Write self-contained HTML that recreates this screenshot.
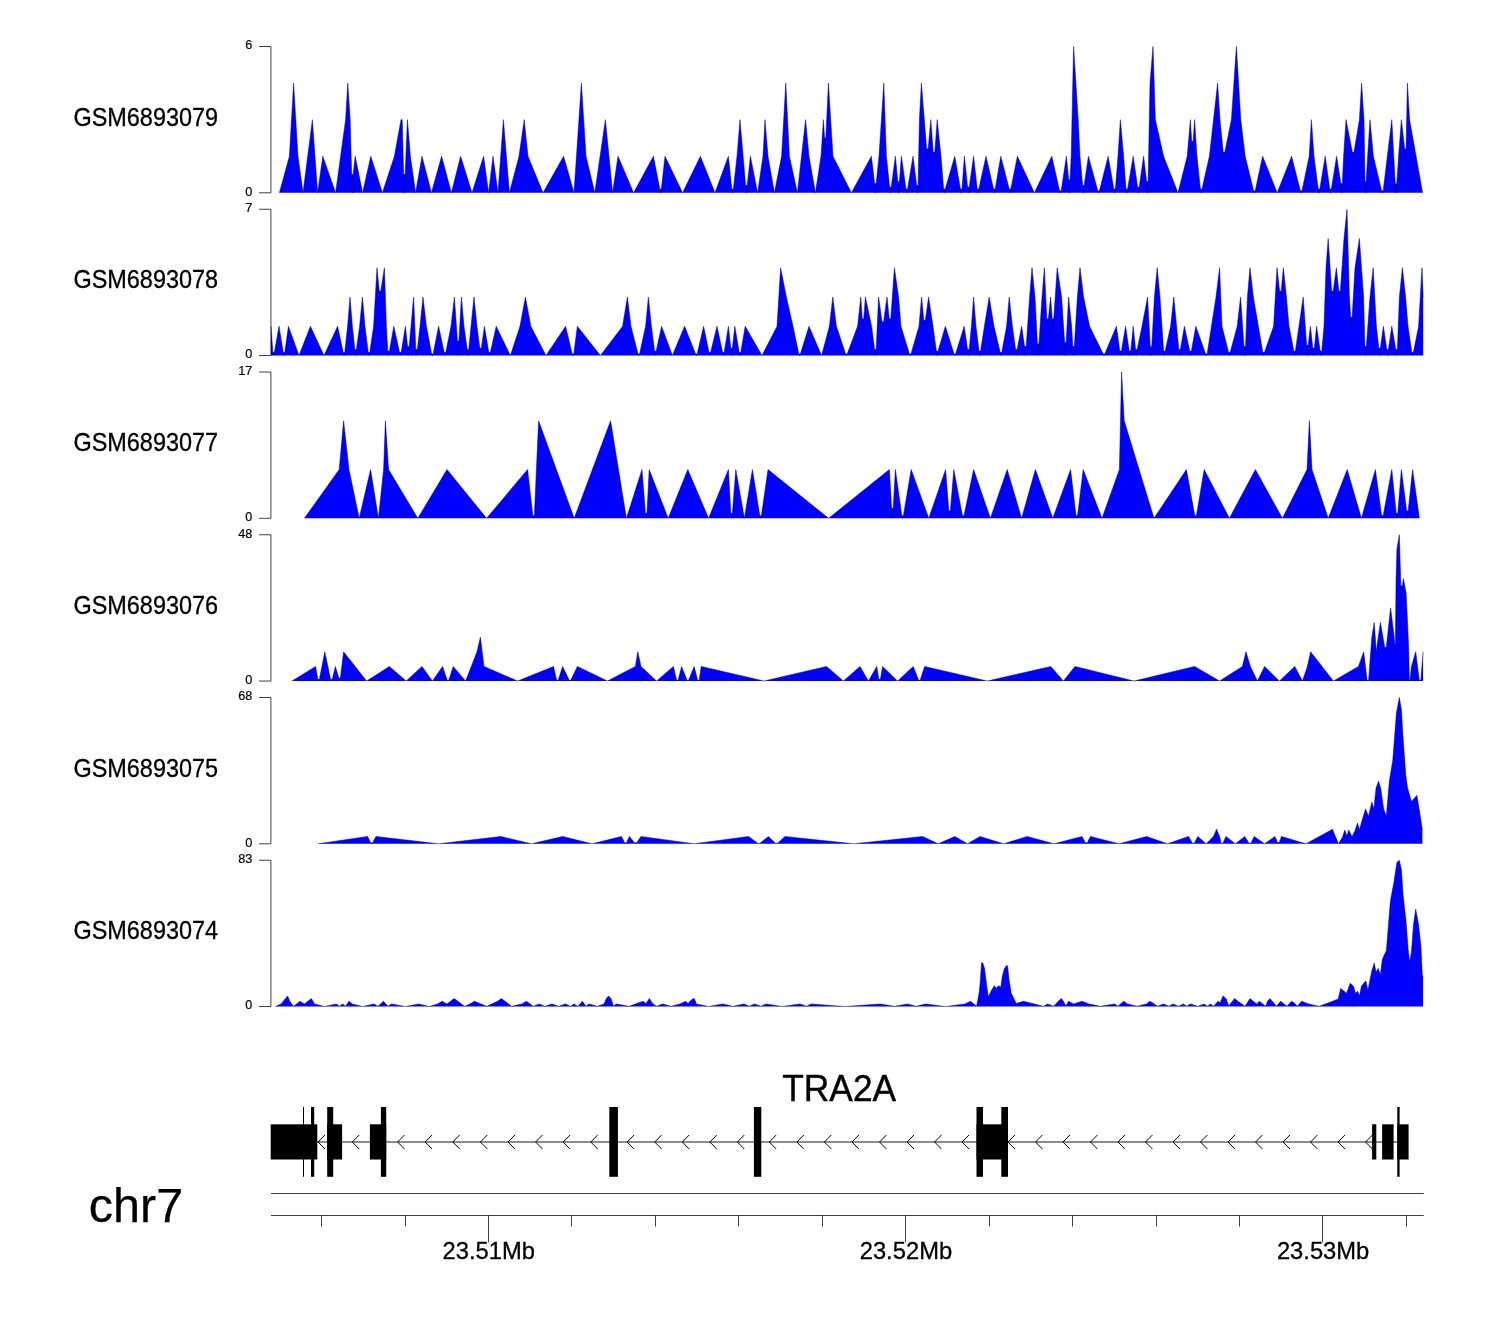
<!DOCTYPE html>
<html lang="en"><head><meta charset="utf-8"><title>TRA2A chr7 coverage tracks</title>
<style>
html,body{margin:0;padding:0;background:#fff;}
body{width:1500px;height:1320px;overflow:hidden;}
svg{display:block;}
text{font-family:"Liberation Sans",sans-serif;fill:#000;}
.ln{stroke:#000;stroke-width:0.75;fill:none;}
.ar{stroke:#000;stroke-width:1;fill:none;}
.cov{fill:#0000ff;stroke:none;}
.edge{fill:none;stroke:#000080;stroke-width:0.5;stroke-linejoin:round;stroke-linecap:butt;}
.seam{fill:none;stroke:#00009c;stroke-width:1.3;stroke-opacity:0.9;}
</style></head><body>
<svg width="1500" height="1320" viewBox="0 0 1500 1320">
<rect x="0" y="0" width="1500" height="1320" fill="#ffffff"/>

<g>
<polygon class="cov" points="279.4,192.8 279.4,192.8 289.4,156.23 293.6,83.08 298,156.23 303,192.8 312.4,119.65 317.6,192.8 322.8,156.23 335.6,192.8 345.6,119.65 347.8,83.08 350.2,119.65 351.65,174.51 353.15,174.51 355.2,156.23 362.6,192.8 370.8,156.23 382.4,192.8 394.4,156.23 401,119.65 402.2,119.65 403.65,174.51 405.15,174.51 407.4,119.65 410.4,156.23 415.6,192.8 422,156.23 431.4,192.8 441.6,156.23 451.4,192.8 460.6,156.23 472,192.8 483.6,156.23 488.6,192.8 493,156.23 498,192.8 503.4,119.65 509.4,192.8 519,156.23 524.2,119.65 528,156.23 543,192.8 563.6,156.23 574,192.8 581.4,83.08 586,156.23 594.8,192.8 605.4,119.65 612.6,192.8 618,156.23 633.6,192.8 653.4,156.23 659.85,189.14 661.35,189.14 665,156.23 682.6,192.8 700.4,156.23 715,192.8 728.4,156.23 731.85,189.14 733.35,189.14 737,156.23 740,119.65 745.65,185.49 747.15,185.49 750.4,156.23 757.6,192.8 763,156.23 765,119.65 768,156.23 774.4,192.8 781.6,156.23 785.8,83.08 789.4,156.23 797.4,192.8 805.6,119.65 809,156.23 815.4,192.8 821,156.23 823.4,119.65 824.57,137.94 825.83,137.94 828.4,83.08 833,156.23 851.4,192.8 871.4,156.23 874.65,183.66 876.15,183.66 879,156.23 883.8,83.08 886.4,156.23 889.65,187.31 891.15,187.31 895.4,156.23 897.85,181.83 899.35,181.83 901.4,156.23 906.05,189.14 907.55,189.14 913,156.23 916.7,185.49 918.1,185.49 919.4,119.65 921.4,83.08 926.65,148.91 928.15,148.91 930.8,119.65 933.25,152.57 934.75,152.57 937.2,119.65 941,156.23 943.65,189.14 945.15,189.14 954.8,156.23 960.45,189.14 961.95,189.14 964.4,156.23 967.65,187.31 969.15,187.31 973.6,156.23 977.25,189.14 978.75,189.14 986,156.23 993.65,189.14 995.15,189.14 1000.8,156.23 1009.25,189.14 1010.75,189.14 1017.4,156.23 1034.4,192.8 1051.8,156.23 1059.65,190.97 1061.15,190.97 1066.4,156.23 1068.77,180 1070.03,180 1071.2,156.23 1073.6,46.5 1078.2,119.65 1080,156.23 1082.65,185.49 1084.15,185.49 1088.4,156.23 1097.85,190.97 1099.35,190.97 1108.2,156.23 1113.85,189.14 1115.35,189.14 1118,156.23 1120.4,119.65 1123.6,156.23 1126.05,189.14 1127.55,189.14 1133.2,156.23 1137.65,187.31 1139.15,187.31 1143.6,156.23 1146.65,181.83 1148.15,181.83 1150,83.08 1153,46.5 1155.4,119.65 1163.6,156.23 1178,192.8 1187.2,156.23 1190.4,119.65 1191.7,141.6 1193.1,141.6 1194.6,119.65 1197,156.23 1200.45,189.14 1201.95,189.14 1209.4,156.23 1217.6,83.08 1220,119.65 1223.25,152.57 1224.75,152.57 1231.4,119.65 1236.4,46.5 1240.8,119.65 1245.2,156.23 1253.65,190.97 1255.15,190.97 1262.6,156.23 1277.2,192.8 1291.6,156.23 1300.45,190.97 1301.95,190.97 1309.2,156.23 1311.4,119.65 1314,156.23 1318.25,189.14 1319.75,189.14 1325.2,156.23 1329.85,189.14 1331.35,189.14 1336.6,156.23 1340.9,183.66 1342.3,183.66 1343.6,156.23 1346,119.65 1352.45,152.57 1353.95,152.57 1359.4,119.65 1361.6,83.08 1364,119.65 1365.04,181.83 1366.16,181.83 1367.6,156.23 1370,119.65 1373.4,156.23 1381.65,190.97 1383.15,190.97 1391.8,119.65 1395.25,183.66 1396.75,183.66 1398.6,156.23 1401.4,119.65 1404.7,148.91 1406.1,148.91 1407.4,83.08 1409.6,119.65 1422.6,192.8 1422.6,192.8"/>
<path class="seam" d="M352.4 174.31V192.8M404.4 174.31V192.8M660.6 188.94V192.8M732.6 188.94V192.8M746.4 185.29V192.8M825.2 137.74V156.23M875.4 183.46V192.8M890.4 187.11V192.8M898.6 181.63V192.8M906.8 188.94V192.8M917.4 185.29V192.8M927.4 148.71V156.23M934 152.37V156.23M944.4 188.94V192.8M961.2 188.94V192.8M968.4 187.11V192.8M978 188.94V192.8M994.4 188.94V192.8M1010 188.94V192.8M1060.4 190.77V192.8M1069.4 179.8V192.8M1083.4 185.29V192.8M1098.6 190.77V192.8M1114.6 188.94V192.8M1126.8 188.94V192.8M1138.4 187.11V192.8M1147.4 181.63V192.8M1192.4 141.4V156.23M1201.2 188.94V192.8M1224 152.37V156.23M1254.4 190.77V192.8M1301.2 190.77V192.8M1319 188.94V192.8M1330.6 188.94V192.8M1341.6 183.46V192.8M1353.2 152.37V156.23M1365.6 181.63V192.8M1382.4 190.77V192.8M1396 183.46V192.8M1405.4 148.71V156.23"/>
<polyline class="edge" points="279.4,192.8 289.4,156.23 293.6,83.08 298,156.23 303,192.8 312.4,119.65 317.6,192.8 322.8,156.23 335.6,192.8 345.6,119.65 347.8,83.08 350.2,119.65 351.65,174.51 353.15,174.51 355.2,156.23 362.6,192.8 370.8,156.23 382.4,192.8 394.4,156.23 401,119.65 402.2,119.65 403.65,174.51 405.15,174.51 407.4,119.65 410.4,156.23 415.6,192.8 422,156.23 431.4,192.8 441.6,156.23 451.4,192.8 460.6,156.23 472,192.8 483.6,156.23 488.6,192.8 493,156.23 498,192.8 503.4,119.65 509.4,192.8 519,156.23 524.2,119.65 528,156.23 543,192.8 563.6,156.23 574,192.8 581.4,83.08 586,156.23 594.8,192.8 605.4,119.65 612.6,192.8 618,156.23 633.6,192.8 653.4,156.23 659.85,189.14 661.35,189.14 665,156.23 682.6,192.8 700.4,156.23 715,192.8 728.4,156.23 731.85,189.14 733.35,189.14 737,156.23 740,119.65 745.65,185.49 747.15,185.49 750.4,156.23 757.6,192.8 763,156.23 765,119.65 768,156.23 774.4,192.8 781.6,156.23 785.8,83.08 789.4,156.23 797.4,192.8 805.6,119.65 809,156.23 815.4,192.8 821,156.23 823.4,119.65 824.57,137.94 825.83,137.94 828.4,83.08 833,156.23 851.4,192.8 871.4,156.23 874.65,183.66 876.15,183.66 879,156.23 883.8,83.08 886.4,156.23 889.65,187.31 891.15,187.31 895.4,156.23 897.85,181.83 899.35,181.83 901.4,156.23 906.05,189.14 907.55,189.14 913,156.23 916.7,185.49 918.1,185.49 919.4,119.65 921.4,83.08 926.65,148.91 928.15,148.91 930.8,119.65 933.25,152.57 934.75,152.57 937.2,119.65 941,156.23 943.65,189.14 945.15,189.14 954.8,156.23 960.45,189.14 961.95,189.14 964.4,156.23 967.65,187.31 969.15,187.31 973.6,156.23 977.25,189.14 978.75,189.14 986,156.23 993.65,189.14 995.15,189.14 1000.8,156.23 1009.25,189.14 1010.75,189.14 1017.4,156.23 1034.4,192.8 1051.8,156.23 1059.65,190.97 1061.15,190.97 1066.4,156.23 1068.77,180 1070.03,180 1071.2,156.23 1073.6,46.5 1078.2,119.65 1080,156.23 1082.65,185.49 1084.15,185.49 1088.4,156.23 1097.85,190.97 1099.35,190.97 1108.2,156.23 1113.85,189.14 1115.35,189.14 1118,156.23 1120.4,119.65 1123.6,156.23 1126.05,189.14 1127.55,189.14 1133.2,156.23 1137.65,187.31 1139.15,187.31 1143.6,156.23 1146.65,181.83 1148.15,181.83 1150,83.08 1153,46.5 1155.4,119.65 1163.6,156.23 1178,192.8 1187.2,156.23 1190.4,119.65 1191.7,141.6 1193.1,141.6 1194.6,119.65 1197,156.23 1200.45,189.14 1201.95,189.14 1209.4,156.23 1217.6,83.08 1220,119.65 1223.25,152.57 1224.75,152.57 1231.4,119.65 1236.4,46.5 1240.8,119.65 1245.2,156.23 1253.65,190.97 1255.15,190.97 1262.6,156.23 1277.2,192.8 1291.6,156.23 1300.45,190.97 1301.95,190.97 1309.2,156.23 1311.4,119.65 1314,156.23 1318.25,189.14 1319.75,189.14 1325.2,156.23 1329.85,189.14 1331.35,189.14 1336.6,156.23 1340.9,183.66 1342.3,183.66 1343.6,156.23 1346,119.65 1352.45,152.57 1353.95,152.57 1359.4,119.65 1361.6,83.08 1364,119.65 1365.04,181.83 1366.16,181.83 1367.6,156.23 1370,119.65 1373.4,156.23 1381.65,190.97 1383.15,190.97 1391.8,119.65 1395.25,183.66 1396.75,183.66 1398.6,156.23 1401.4,119.65 1404.7,148.91 1406.1,148.91 1407.4,83.08 1409.6,119.65 1422.6,192.8"/>
<path class="ln" d="M259 46.5 H270.9 V192.8 H259"/>
<text transform="translate(252.3 49.4) scale(0.94 1)" font-size="13.5" text-anchor="end" stroke="#000" stroke-width="0.2">6</text>
<text transform="translate(252.3 195.7) scale(0.94 1)" font-size="13.5" text-anchor="end" stroke="#000" stroke-width="0.2">0</text>
<text transform="translate(73.4 125.65) scale(0.924 1)" font-size="25.4" stroke="#000" stroke-width="0.3">GSM6893079</text>
</g>
<g>
<polygon class="cov" points="271,355.55 271,326.29 272.85,352.62 274.35,352.62 279,326.29 283.25,352.62 284.75,352.62 288.4,326.29 299,355.55 310.4,326.29 324,355.55 337.6,326.29 343.25,352.62 344.75,352.62 347.6,326.29 350,297.03 352.4,326.29 354.85,349.7 356.35,349.7 359.6,326.29 362.4,297.03 365,326.29 368.25,352.62 369.75,352.62 373.6,326.29 377,267.77 379.25,291.18 380.75,291.18 384.4,267.77 386.4,326.29 387.85,351.16 389.35,351.16 393.8,326.29 399.65,352.62 401.15,352.62 405.4,326.29 407.65,346.77 409.15,346.77 411,326.29 413.6,297.03 415.85,349.7 417.35,349.7 420,326.29 423,297.03 426.4,326.29 431.65,354.09 433.15,354.09 438.6,326.29 444.25,352.62 445.75,352.62 451,326.29 454.4,297.03 457.45,340.92 458.95,340.92 461.4,297.03 464,326.29 467.25,349.7 468.75,349.7 471,326.29 474,297.03 477,326.29 479.85,348.24 481.35,348.24 484.4,326.29 488.85,352.62 490.35,352.62 496.2,326.29 510.4,355.55 520,326.29 525.4,297.03 530.8,326.29 546,355.55 565.6,326.29 572.25,354.09 573.75,354.09 577.4,326.29 600.4,355.55 622.6,326.29 627.4,297.03 631,326.29 638.05,354.09 639.55,354.09 645.6,326.29 648.4,297.03 651.4,326.29 654.65,351.16 656.15,351.16 661.6,326.29 672.4,355.55 684.6,326.29 695.65,354.09 697.15,354.09 703.6,326.29 709.05,352.62 710.55,352.62 717,326.29 722.65,352.62 724.15,352.62 728.4,326.29 730.85,348.24 732.35,348.24 734.8,326.29 739.25,352.62 740.75,352.62 745.2,326.29 762,355.55 777,326.29 780.6,267.77 786.4,297.03 793,326.29 798.85,354.09 800.35,354.09 809,326.29 821.6,355.55 829.4,326.29 832.8,297.03 836.4,326.29 845.65,354.09 847.15,354.09 857.6,326.29 860.8,297.03 862.25,318.98 863.75,318.98 865.4,297.03 871.6,326.29 874.65,349.7 876.15,349.7 878.6,297.03 882.05,321.9 883.55,321.9 887,297.03 889.25,318.98 890.75,318.98 894.4,267.77 898.6,297.03 901,326.29 909.45,354.09 910.95,354.09 919,326.29 921.6,297.03 923.85,320.44 925.35,320.44 928.6,297.03 933,326.29 936.45,351.16 937.95,351.16 945.4,326.29 954.05,354.09 955.55,354.09 964.2,326.29 967.65,349.7 969.15,349.7 971.4,326.29 973.6,297.03 976,326.29 979.05,351.16 980.55,351.16 984.4,326.29 989.2,297.03 994,326.29 1000.25,352.62 1001.75,352.62 1006.6,326.29 1009.2,297.03 1012.4,326.29 1015.65,349.7 1017.15,349.7 1021.6,326.29 1024.65,346.77 1026.15,346.77 1029.6,297.03 1032,267.77 1035,297.03 1037.45,343.85 1038.95,343.85 1042,297.03 1044.4,267.77 1046.85,318.98 1048.35,318.98 1050.6,297.03 1052.25,318.98 1053.75,318.98 1057.2,267.77 1061.6,297.03 1064.65,342.38 1066.15,342.38 1068.6,297.03 1071.6,326.29 1072.9,346.77 1074.3,346.77 1077.4,297.03 1080,267.77 1083.6,297.03 1089.6,326.29 1103.25,354.09 1104.75,354.09 1116.4,326.29 1119.85,351.16 1121.35,351.16 1125.6,326.29 1129.25,351.16 1130.75,351.16 1133.2,326.29 1135.65,349.7 1137.15,349.7 1142,326.29 1147.6,297.03 1150.25,346.77 1151.75,346.77 1154.4,297.03 1157.2,267.77 1160,297.03 1163.65,351.16 1165.15,351.16 1170.6,326.29 1173.8,297.03 1176.6,326.29 1178.85,349.7 1180.35,349.7 1184.4,326.29 1189.85,351.16 1191.35,351.16 1195.8,326.29 1205.65,354.09 1207.15,354.09 1216,297.03 1219.6,267.77 1222,326.29 1228.65,352.62 1230.15,352.62 1237.2,326.29 1240.6,297.03 1242.6,326.29 1244.05,346.77 1245.55,346.77 1247.4,297.03 1250,267.77 1253.4,297.03 1262.85,352.62 1264.35,352.62 1273.6,326.29 1277,267.77 1279.65,291.18 1281.15,291.18 1283.4,267.77 1286.4,297.03 1289,326.29 1293.85,351.16 1295.35,351.16 1303.2,297.03 1306.65,345.31 1308.15,345.31 1310.4,326.29 1312.85,348.24 1314.35,348.24 1316.6,326.29 1320.25,351.16 1321.75,351.16 1324,326.29 1326,267.77 1328.2,238.51 1331.65,291.18 1333.15,291.18 1336.4,267.77 1338.85,291.18 1340.35,291.18 1344,238.51 1347,209.25 1349.4,297.03 1350.7,317.51 1352.1,317.51 1355,267.77 1359.4,238.51 1363.6,297.03 1364.9,346.77 1366.3,346.77 1370,297.03 1373.2,267.77 1376.4,326.29 1378.85,348.24 1380.35,348.24 1383.4,326.29 1386.85,349.7 1388.35,349.7 1391.8,326.29 1395.85,349.7 1397.35,349.7 1399.4,297.03 1402.4,267.77 1405.6,297.03 1408,326.29 1411.85,352.62 1413.35,352.62 1418.6,326.29 1422,267.77 1423.2,297.03 1423.2,355.55"/>
<path class="seam" d="M273.6 352.42V355.55M284 352.42V355.55M344 352.42V355.55M355.6 349.5V355.55M369 352.42V355.55M380 290.98V297.03M388.6 350.96V355.55M400.4 352.42V355.55M408.4 346.57V355.55M416.6 349.5V355.55M432.4 353.89V355.55M445 352.42V355.55M458.2 340.72V355.55M468 349.5V355.55M480.6 348.04V355.55M489.6 352.42V355.55M573 353.89V355.55M638.8 353.89V355.55M655.4 350.96V355.55M696.4 353.89V355.55M709.8 352.42V355.55M723.4 352.42V355.55M731.6 348.04V355.55M740 352.42V355.55M799.6 353.89V355.55M846.4 353.89V355.55M863 318.78V326.29M875.4 349.5V355.55M882.8 321.7V326.29M890 318.78V326.29M910.2 353.89V355.55M924.6 320.24V326.29M937.2 350.96V355.55M954.8 353.89V355.55M968.4 349.5V355.55M979.8 350.96V355.55M1001 352.42V355.55M1016.4 349.5V355.55M1025.4 346.57V355.55M1038.2 343.65V355.55M1047.6 318.78V326.29M1053 318.78V326.29M1065.4 342.18V355.55M1073.6 346.57V355.55M1104 353.89V355.55M1120.6 350.96V355.55M1130 350.96V355.55M1136.4 349.5V355.55M1151 346.57V355.55M1164.4 350.96V355.55M1179.6 349.5V355.55M1190.6 350.96V355.55M1206.4 353.89V355.55M1229.4 352.42V355.55M1244.8 346.57V355.55M1263.6 352.42V355.55M1280.4 290.98V297.03M1294.6 350.96V355.55M1307.4 345.11V355.55M1313.6 348.04V355.55M1321 350.96V355.55M1332.4 290.98V297.03M1339.6 290.98V297.03M1351.4 317.31V326.29M1365.6 346.57V355.55M1379.6 348.04V355.55M1387.6 349.5V355.55M1396.6 349.5V355.55M1412.6 352.42V355.55"/>
<polyline class="edge" points="271,326.29 272.85,352.62 274.35,352.62 279,326.29 283.25,352.62 284.75,352.62 288.4,326.29 299,355.55 310.4,326.29 324,355.55 337.6,326.29 343.25,352.62 344.75,352.62 347.6,326.29 350,297.03 352.4,326.29 354.85,349.7 356.35,349.7 359.6,326.29 362.4,297.03 365,326.29 368.25,352.62 369.75,352.62 373.6,326.29 377,267.77 379.25,291.18 380.75,291.18 384.4,267.77 386.4,326.29 387.85,351.16 389.35,351.16 393.8,326.29 399.65,352.62 401.15,352.62 405.4,326.29 407.65,346.77 409.15,346.77 411,326.29 413.6,297.03 415.85,349.7 417.35,349.7 420,326.29 423,297.03 426.4,326.29 431.65,354.09 433.15,354.09 438.6,326.29 444.25,352.62 445.75,352.62 451,326.29 454.4,297.03 457.45,340.92 458.95,340.92 461.4,297.03 464,326.29 467.25,349.7 468.75,349.7 471,326.29 474,297.03 477,326.29 479.85,348.24 481.35,348.24 484.4,326.29 488.85,352.62 490.35,352.62 496.2,326.29 510.4,355.55 520,326.29 525.4,297.03 530.8,326.29 546,355.55 565.6,326.29 572.25,354.09 573.75,354.09 577.4,326.29 600.4,355.55 622.6,326.29 627.4,297.03 631,326.29 638.05,354.09 639.55,354.09 645.6,326.29 648.4,297.03 651.4,326.29 654.65,351.16 656.15,351.16 661.6,326.29 672.4,355.55 684.6,326.29 695.65,354.09 697.15,354.09 703.6,326.29 709.05,352.62 710.55,352.62 717,326.29 722.65,352.62 724.15,352.62 728.4,326.29 730.85,348.24 732.35,348.24 734.8,326.29 739.25,352.62 740.75,352.62 745.2,326.29 762,355.55 777,326.29 780.6,267.77 786.4,297.03 793,326.29 798.85,354.09 800.35,354.09 809,326.29 821.6,355.55 829.4,326.29 832.8,297.03 836.4,326.29 845.65,354.09 847.15,354.09 857.6,326.29 860.8,297.03 862.25,318.98 863.75,318.98 865.4,297.03 871.6,326.29 874.65,349.7 876.15,349.7 878.6,297.03 882.05,321.9 883.55,321.9 887,297.03 889.25,318.98 890.75,318.98 894.4,267.77 898.6,297.03 901,326.29 909.45,354.09 910.95,354.09 919,326.29 921.6,297.03 923.85,320.44 925.35,320.44 928.6,297.03 933,326.29 936.45,351.16 937.95,351.16 945.4,326.29 954.05,354.09 955.55,354.09 964.2,326.29 967.65,349.7 969.15,349.7 971.4,326.29 973.6,297.03 976,326.29 979.05,351.16 980.55,351.16 984.4,326.29 989.2,297.03 994,326.29 1000.25,352.62 1001.75,352.62 1006.6,326.29 1009.2,297.03 1012.4,326.29 1015.65,349.7 1017.15,349.7 1021.6,326.29 1024.65,346.77 1026.15,346.77 1029.6,297.03 1032,267.77 1035,297.03 1037.45,343.85 1038.95,343.85 1042,297.03 1044.4,267.77 1046.85,318.98 1048.35,318.98 1050.6,297.03 1052.25,318.98 1053.75,318.98 1057.2,267.77 1061.6,297.03 1064.65,342.38 1066.15,342.38 1068.6,297.03 1071.6,326.29 1072.9,346.77 1074.3,346.77 1077.4,297.03 1080,267.77 1083.6,297.03 1089.6,326.29 1103.25,354.09 1104.75,354.09 1116.4,326.29 1119.85,351.16 1121.35,351.16 1125.6,326.29 1129.25,351.16 1130.75,351.16 1133.2,326.29 1135.65,349.7 1137.15,349.7 1142,326.29 1147.6,297.03 1150.25,346.77 1151.75,346.77 1154.4,297.03 1157.2,267.77 1160,297.03 1163.65,351.16 1165.15,351.16 1170.6,326.29 1173.8,297.03 1176.6,326.29 1178.85,349.7 1180.35,349.7 1184.4,326.29 1189.85,351.16 1191.35,351.16 1195.8,326.29 1205.65,354.09 1207.15,354.09 1216,297.03 1219.6,267.77 1222,326.29 1228.65,352.62 1230.15,352.62 1237.2,326.29 1240.6,297.03 1242.6,326.29 1244.05,346.77 1245.55,346.77 1247.4,297.03 1250,267.77 1253.4,297.03 1262.85,352.62 1264.35,352.62 1273.6,326.29 1277,267.77 1279.65,291.18 1281.15,291.18 1283.4,267.77 1286.4,297.03 1289,326.29 1293.85,351.16 1295.35,351.16 1303.2,297.03 1306.65,345.31 1308.15,345.31 1310.4,326.29 1312.85,348.24 1314.35,348.24 1316.6,326.29 1320.25,351.16 1321.75,351.16 1324,326.29 1326,267.77 1328.2,238.51 1331.65,291.18 1333.15,291.18 1336.4,267.77 1338.85,291.18 1340.35,291.18 1344,238.51 1347,209.25 1349.4,297.03 1350.7,317.51 1352.1,317.51 1355,267.77 1359.4,238.51 1363.6,297.03 1364.9,346.77 1366.3,346.77 1370,297.03 1373.2,267.77 1376.4,326.29 1378.85,348.24 1380.35,348.24 1383.4,326.29 1386.85,349.7 1388.35,349.7 1391.8,326.29 1395.85,349.7 1397.35,349.7 1399.4,297.03 1402.4,267.77 1405.6,297.03 1408,326.29 1411.85,352.62 1413.35,352.62 1418.6,326.29 1422,267.77 1423.2,297.03"/>
<path class="ln" d="M259 209.25 H270.9 V355.55 H259"/>
<text transform="translate(252.3 212.15) scale(0.94 1)" font-size="13.5" text-anchor="end" stroke="#000" stroke-width="0.2">7</text>
<text transform="translate(252.3 358.45) scale(0.94 1)" font-size="13.5" text-anchor="end" stroke="#000" stroke-width="0.2">0</text>
<text transform="translate(73.4 288.4) scale(0.924 1)" font-size="25.4" stroke="#000" stroke-width="0.3">GSM6893078</text>
</g>
<g>
<polygon class="cov" points="304.4,518.3 304.4,518.3 339.2,469.53 343.6,420.77 349,469.53 359.2,518.3 370.6,469.53 378.4,518.3 383.6,469.53 385.4,420.77 388.6,469.53 417.8,518.3 447,469.53 486.6,518.3 527.6,469.53 532.85,515.86 534.35,515.86 538.6,420.77 574.2,518.3 610.6,420.77 626.4,518.3 642,469.53 645.45,513.42 646.95,513.42 649.2,469.53 668.2,518.3 687.8,469.53 708.6,518.3 728.4,469.53 730.85,513.42 732.35,513.42 735.8,469.53 744.4,518.3 752.4,469.53 759.85,515.86 761.35,515.86 768,469.53 828.6,518.3 889.4,469.53 891.65,508.55 893.15,508.55 895.4,469.53 901.85,515.86 903.35,515.86 911.2,469.53 928.8,518.3 945.6,469.53 948.85,510.98 950.35,510.98 953.8,469.53 962.45,515.86 963.95,515.86 973.6,469.53 990.4,518.3 1007.2,469.53 1021.6,518.3 1035.4,469.53 1052.8,518.3 1070.6,469.53 1076.05,515.86 1077.55,515.86 1083.2,469.53 1102,518.3 1119.4,469.53 1121.6,372 1124.2,420.77 1154,518.3 1186.4,469.53 1194.85,515.86 1196.35,515.86 1204.2,469.53 1229.4,518.3 1255.4,469.53 1282.4,518.3 1307,469.53 1309.4,420.77 1312,469.53 1328.2,518.3 1347.2,469.53 1361.4,518.3 1375.4,469.53 1381.65,515.86 1383.15,515.86 1391.8,469.53 1396.25,513.42 1397.75,513.42 1401.4,469.53 1406.65,510.98 1408.15,510.98 1412.6,469.53 1419.4,518.3 1419.4,518.3"/>
<path class="seam" d="M533.6 515.66V518.3M646.2 513.22V518.3M731.6 513.22V518.3M760.6 515.66V518.3M892.4 508.35V518.3M902.6 515.66V518.3M949.6 510.78V518.3M963.2 515.66V518.3M1076.8 515.66V518.3M1195.6 515.66V518.3M1382.4 515.66V518.3M1397 513.22V518.3M1407.4 510.78V518.3"/>
<polyline class="edge" points="304.4,518.3 339.2,469.53 343.6,420.77 349,469.53 359.2,518.3 370.6,469.53 378.4,518.3 383.6,469.53 385.4,420.77 388.6,469.53 417.8,518.3 447,469.53 486.6,518.3 527.6,469.53 532.85,515.86 534.35,515.86 538.6,420.77 574.2,518.3 610.6,420.77 626.4,518.3 642,469.53 645.45,513.42 646.95,513.42 649.2,469.53 668.2,518.3 687.8,469.53 708.6,518.3 728.4,469.53 730.85,513.42 732.35,513.42 735.8,469.53 744.4,518.3 752.4,469.53 759.85,515.86 761.35,515.86 768,469.53 828.6,518.3 889.4,469.53 891.65,508.55 893.15,508.55 895.4,469.53 901.85,515.86 903.35,515.86 911.2,469.53 928.8,518.3 945.6,469.53 948.85,510.98 950.35,510.98 953.8,469.53 962.45,515.86 963.95,515.86 973.6,469.53 990.4,518.3 1007.2,469.53 1021.6,518.3 1035.4,469.53 1052.8,518.3 1070.6,469.53 1076.05,515.86 1077.55,515.86 1083.2,469.53 1102,518.3 1119.4,469.53 1121.6,372 1124.2,420.77 1154,518.3 1186.4,469.53 1194.85,515.86 1196.35,515.86 1204.2,469.53 1229.4,518.3 1255.4,469.53 1282.4,518.3 1307,469.53 1309.4,420.77 1312,469.53 1328.2,518.3 1347.2,469.53 1361.4,518.3 1375.4,469.53 1381.65,515.86 1383.15,515.86 1391.8,469.53 1396.25,513.42 1397.75,513.42 1401.4,469.53 1406.65,510.98 1408.15,510.98 1412.6,469.53 1419.4,518.3"/>
<path class="ln" d="M259 372 H270.9 V518.3 H259"/>
<text transform="translate(252.3 374.9) scale(0.94 1)" font-size="13.5" text-anchor="end" stroke="#000" stroke-width="0.2">17</text>
<text transform="translate(252.3 521.2) scale(0.94 1)" font-size="13.5" text-anchor="end" stroke="#000" stroke-width="0.2">0</text>
<text transform="translate(73.4 451.15) scale(0.924 1)" font-size="25.4" stroke="#000" stroke-width="0.3">GSM6893077</text>
</g>
<g>
<polygon class="cov" points="292,681.05 292,681.05 315.6,666.42 317.85,679.59 319.35,679.59 324.8,651.79 330.65,679.59 332.15,679.59 335.4,666.42 338.85,678.12 340.35,678.12 343.6,651.79 366.6,681.05 389.4,666.42 406.2,681.05 422,666.42 432.4,681.05 442.6,666.42 447.25,680.32 448.75,680.32 453.2,666.42 465.6,681.05 477,651.79 480.4,637.16 484,666.42 517.6,681.05 553.6,666.42 556.65,680.32 558.15,680.32 562.6,666.42 569.25,680.32 570.75,680.32 577.4,666.42 607.4,681.05 635.4,666.42 637.8,651.79 641,666.42 656.6,681.05 673.4,666.42 676.65,680.32 678.15,680.32 681.6,666.42 687.05,680.32 688.55,680.32 694.2,666.42 697.65,680.32 699.15,680.32 701.2,666.42 764,681.05 826.6,666.42 843.4,681.05 860,666.42 868.4,681.05 876.8,666.42 878.85,679.59 880.35,679.59 882.6,666.42 897.6,681.05 913.2,666.42 918.65,680.32 920.15,680.32 924.6,666.42 987.2,681.05 1050.8,666.42 1063.4,681.05 1075,666.42 1134,681.05 1194.6,666.42 1219.6,681.05 1242.4,666.42 1246,651.79 1250.4,666.42 1257.4,681.05 1264.6,666.42 1279.4,681.05 1294.8,666.42 1302.4,681.05 1307.4,666.42 1310.6,651.79 1333.39,681.05 1358.48,666.42 1363.7,651.79 1367.07,680.32 1368.57,680.32 1371.82,637.16 1374.24,622.53 1376.3,651.79 1378.24,637.16 1380.42,622.53 1382.97,637.16 1384.77,647.4 1386.27,647.4 1390.61,607.9 1394.24,637.16 1394.79,644.47 1395.39,644.47 1396.06,578.64 1396.91,549.38 1399.33,534.75 1400.84,585.95 1402.19,585.95 1403.45,578.64 1406.12,593.27 1407.58,622.53 1408.79,651.79 1409.34,680.32 1409.93,680.32 1411.45,666.42 1415.7,651.79 1419.31,680.32 1420.81,680.32 1423.09,651.79 1423.09,681.05"/>
<path class="seam" d="M318.6 679.39V681.05M331.4 679.39V681.05M339.6 677.92V681.05M448 680.12V681.05M557.4 680.12V681.05M570 680.12V681.05M677.4 680.12V681.05M687.8 680.12V681.05M698.4 680.12V681.05M879.6 679.39V681.05M919.4 680.12V681.05M1367.82 680.12V681.05M1385.52 647.2V651.79M1395.09 644.27V651.79M1401.52 585.75V593.27M1409.64 680.12V681.05M1420.06 680.12V681.05"/>
<polyline class="edge" points="292,681.05 315.6,666.42 317.85,679.59 319.35,679.59 324.8,651.79 330.65,679.59 332.15,679.59 335.4,666.42 338.85,678.12 340.35,678.12 343.6,651.79 366.6,681.05 389.4,666.42 406.2,681.05 422,666.42 432.4,681.05 442.6,666.42 447.25,680.32 448.75,680.32 453.2,666.42 465.6,681.05 477,651.79 480.4,637.16 484,666.42 517.6,681.05 553.6,666.42 556.65,680.32 558.15,680.32 562.6,666.42 569.25,680.32 570.75,680.32 577.4,666.42 607.4,681.05 635.4,666.42 637.8,651.79 641,666.42 656.6,681.05 673.4,666.42 676.65,680.32 678.15,680.32 681.6,666.42 687.05,680.32 688.55,680.32 694.2,666.42 697.65,680.32 699.15,680.32 701.2,666.42 764,681.05 826.6,666.42 843.4,681.05 860,666.42 868.4,681.05 876.8,666.42 878.85,679.59 880.35,679.59 882.6,666.42 897.6,681.05 913.2,666.42 918.65,680.32 920.15,680.32 924.6,666.42 987.2,681.05 1050.8,666.42 1063.4,681.05 1075,666.42 1134,681.05 1194.6,666.42 1219.6,681.05 1242.4,666.42 1246,651.79 1250.4,666.42 1257.4,681.05 1264.6,666.42 1279.4,681.05 1294.8,666.42 1302.4,681.05 1307.4,666.42 1310.6,651.79 1333.39,681.05 1358.48,666.42 1363.7,651.79 1367.07,680.32 1368.57,680.32 1371.82,637.16 1374.24,622.53 1376.3,651.79 1378.24,637.16 1380.42,622.53 1382.97,637.16 1384.77,647.4 1386.27,647.4 1390.61,607.9 1394.24,637.16 1394.79,644.47 1395.39,644.47 1396.06,578.64 1396.91,549.38 1399.33,534.75 1400.84,585.95 1402.19,585.95 1403.45,578.64 1406.12,593.27 1407.58,622.53 1408.79,651.79 1409.34,680.32 1409.93,680.32 1411.45,666.42 1415.7,651.79 1419.31,680.32 1420.81,680.32 1423.09,651.79"/>
<path class="ln" d="M259 534.75 H270.9 V681.05 H259"/>
<text transform="translate(252.3 537.65) scale(0.94 1)" font-size="13.5" text-anchor="end" stroke="#000" stroke-width="0.2">48</text>
<text transform="translate(252.3 683.95) scale(0.94 1)" font-size="13.5" text-anchor="end" stroke="#000" stroke-width="0.2">0</text>
<text transform="translate(73.4 613.9) scale(0.924 1)" font-size="25.4" stroke="#000" stroke-width="0.3">GSM6893076</text>
</g>
<g>
<polygon class="cov" points="318,843.8 318,843.8 367.6,836.48 370.85,843.07 372.35,843.07 376,836.48 438.6,843.8 501,836.48 531.4,843.8 562.6,836.48 592,843.8 621.4,836.48 624.85,843.07 626.35,843.07 629.4,836.48 634.85,843.07 636.35,843.07 641,836.48 694,843.8 748.6,836.48 758.05,843.43 759.55,843.43 768.4,836.48 775.85,843.43 777.35,843.43 785,836.48 853.6,843.8 922.6,836.48 938.2,843.8 954.8,836.48 967.6,843.8 980,836.48 1003.6,843.8 1027.2,836.48 1054,843.8 1082,836.48 1085.65,843.07 1087.15,843.07 1090.4,836.48 1119,843.8 1146.6,836.48 1167.4,843.8 1188.6,836.48 1192.65,843.43 1194.15,843.43 1197.8,836.48 1206.2,843.8 1213.4,836.48 1216.6,829.17 1219.6,836.48 1221.25,843.43 1222.75,843.43 1226,836.48 1235.4,843.8 1244.8,836.48 1249.25,843.43 1250.75,843.43 1254.2,836.48 1264.6,843.8 1275,836.48 1277.65,842.7 1279.15,842.7 1281.4,836.48 1306,843.8 1332.6,829.17 1332.67,829.87 1338.48,843.8 1342.48,837.14 1344.79,830.11 1346.73,835.93 1348.79,830.11 1352.06,836.53 1355.09,830.48 1357.52,822.97 1359.45,829.87 1362.48,818.97 1365.52,809.04 1368.55,815.94 1371.82,802.02 1373.88,808.68 1376.06,788.09 1378.48,781.19 1380.67,788.09 1383.7,809.28 1386.36,815.94 1389.39,780.82 1392.79,760.23 1396.42,713 1399.33,697.5 1401.52,710.58 1402.73,732.38 1405.76,774.77 1407.58,788.09 1411.45,801.41 1416.91,795.36 1419.7,812.31 1422.36,829.87 1422.36,843.8"/>
<path class="seam" d="M371.6 842.87V843.8M625.6 842.87V843.8M635.6 842.87V843.8M758.8 843.23V843.8M776.6 843.23V843.8M1086.4 842.87V843.8M1193.4 843.23V843.8M1222 843.23V843.8M1250 843.23V843.8M1278.4 842.5V843.8"/>
<polyline class="edge" points="318,843.8 367.6,836.48 370.85,843.07 372.35,843.07 376,836.48 438.6,843.8 501,836.48 531.4,843.8 562.6,836.48 592,843.8 621.4,836.48 624.85,843.07 626.35,843.07 629.4,836.48 634.85,843.07 636.35,843.07 641,836.48 694,843.8 748.6,836.48 758.05,843.43 759.55,843.43 768.4,836.48 775.85,843.43 777.35,843.43 785,836.48 853.6,843.8 922.6,836.48 938.2,843.8 954.8,836.48 967.6,843.8 980,836.48 1003.6,843.8 1027.2,836.48 1054,843.8 1082,836.48 1085.65,843.07 1087.15,843.07 1090.4,836.48 1119,843.8 1146.6,836.48 1167.4,843.8 1188.6,836.48 1192.65,843.43 1194.15,843.43 1197.8,836.48 1206.2,843.8 1213.4,836.48 1216.6,829.17 1219.6,836.48 1221.25,843.43 1222.75,843.43 1226,836.48 1235.4,843.8 1244.8,836.48 1249.25,843.43 1250.75,843.43 1254.2,836.48 1264.6,843.8 1275,836.48 1277.65,842.7 1279.15,842.7 1281.4,836.48 1306,843.8 1332.6,829.17 1332.67,829.87 1338.48,843.8 1342.48,837.14 1344.79,830.11 1346.73,835.93 1348.79,830.11 1352.06,836.53 1355.09,830.48 1357.52,822.97 1359.45,829.87 1362.48,818.97 1365.52,809.04 1368.55,815.94 1371.82,802.02 1373.88,808.68 1376.06,788.09 1378.48,781.19 1380.67,788.09 1383.7,809.28 1386.36,815.94 1389.39,780.82 1392.79,760.23 1396.42,713 1399.33,697.5 1401.52,710.58 1402.73,732.38 1405.76,774.77 1407.58,788.09 1411.45,801.41 1416.91,795.36 1419.7,812.31 1422.36,829.87"/>
<path class="ln" d="M259 697.5 H270.9 V843.8 H259"/>
<text transform="translate(252.3 700.4) scale(0.94 1)" font-size="13.5" text-anchor="end" stroke="#000" stroke-width="0.2">68</text>
<text transform="translate(252.3 846.7) scale(0.94 1)" font-size="13.5" text-anchor="end" stroke="#000" stroke-width="0.2">0</text>
<text transform="translate(73.4 776.65) scale(0.924 1)" font-size="25.4" stroke="#000" stroke-width="0.3">GSM6893075</text>
</g>
<g>
<polygon class="cov" points="275.4,1006.55 275.4,1006.55 281,1003.95 287.6,995.94 290,1001.55 293.6,1006.35 300,1001.35 304.4,1003.95 311.4,998.54 314.6,1003.95 324.6,1006.55 336.4,1003.95 339.6,1006.15 342.6,1003.95 345.6,1006.15 349,1001.15 352.4,1003.95 362.6,1006.55 374,1003.95 378,1006.35 383.4,1001.15 388,1006.35 391.4,1003.95 405.4,1006.55 418.6,1003.95 429.2,1006.55 437.6,1003.95 442,1001.15 447,1003.95 454.2,998.54 464.6,1006.35 470,1003.95 474.4,1001.15 486.6,1006.35 497,1001.55 501.4,998.54 511.6,1006.35 522,1003.95 526.4,1001.15 533.4,1006.35 539,1003.95 545,1006.35 552,1003.95 558.4,1006.35 565.6,1003.95 570.6,1006.35 574,1003.95 578,1006.35 582.4,1001.15 586,1006.15 589,1003.95 597.4,1006.35 604,1003.95 606.4,998.54 608.6,995.94 611,998.54 613.4,1005.95 616.4,1003.95 629,1006.35 643,1001.15 646,1003.55 649.4,998.54 653,1003.95 656.6,1006.15 662.6,1003.95 671,1006.35 680,1003.95 685.6,1001.15 688,1003.55 692,999.35 694.4,998.54 696.4,1003.95 708.6,1006.55 722.6,1003.95 733,1006.35 744,1003.95 749.4,1006.15 754.4,1003.95 761,1006.15 766,1003.95 782,1006.55 800,1003.95 806.6,1006.15 811,1003.95 845,1006.55 880,1003.95 894.4,1006.35 907.6,1003.95 916,1006.35 925.6,1003.95 945.6,1006.55 965,1003.88 970.47,1001.22 976.67,1006.22 979.33,991.55 980.53,978.21 981.47,962.87 982.8,963.01 984.53,968.21 986,980.21 988.33,996.88 991.13,990.88 994.33,985.68 996.33,988.21 998.47,985.68 1000.8,987.21 1002.33,976.21 1004.53,968.21 1007,965.21 1007.67,966.21 1009,979.54 1011.33,993.55 1016.33,1003.55 1023.53,1001.22 1043.33,1006.35 1047.6,1003.95 1053.6,1006.15 1058,1001.55 1061.4,998.54 1063.6,1001.55 1065.6,1005.95 1068.6,1001.15 1073.6,1003.95 1082,1001.15 1089,1003.95 1100.6,1006.35 1114.6,1003.95 1118,1006.15 1123.6,1001.15 1127.6,1003.95 1137,1006.35 1146.4,1003.95 1150,1001.15 1157.6,1006.15 1163.4,1003.95 1169,1006.15 1173,1003.95 1178.4,1006.15 1183.4,1003.95 1186.6,1006.15 1190.4,1003.95 1198,1006.35 1204,1003.95 1207.6,1006.15 1210.4,1003.95 1213.6,1006.15 1218,1001.15 1220,1002.95 1223,995.94 1226.4,998.94 1228.6,1005.95 1234.6,998.54 1238.4,1001.55 1245,1006.35 1250,998.54 1256.6,1003.95 1259.4,1001.15 1265.6,1006.15 1267.6,1001.15 1270,998.54 1276.4,1006.15 1280.6,1001.15 1287,1006.15 1291.6,1001.15 1295,1003.55 1297.4,1006.15 1301.6,1001.15 1308.6,1003.95 1319,1006.35 1330,1002.31 1338.24,998.92 1340.67,988.38 1346.61,993.23 1350.24,983.18 1353.64,986.57 1355.45,993.23 1357.52,991.17 1359.45,995.65 1361.52,985.96 1365.76,980.87 1367.94,990.2 1371.82,970.82 1374.24,962.95 1376.06,972.03 1378.24,968.4 1380.3,975.06 1382.36,959.32 1386.36,950.48 1390.36,901.18 1393.88,882.41 1396.91,862.43 1399.33,860.25 1401.52,870.3 1403.09,895.13 1406,920.56 1408.18,949.63 1409.64,961.74 1411.45,952.05 1413.39,925.41 1415.7,909.06 1418.73,925.41 1420.91,946 1422.36,975.67 1423.09,975.67 1423.09,1006.55"/>
<polyline class="edge" points="275.4,1006.55 281,1003.95 287.6,995.94 290,1001.55 293.6,1006.35 300,1001.35 304.4,1003.95 311.4,998.54 314.6,1003.95 324.6,1006.55 336.4,1003.95 339.6,1006.15 342.6,1003.95 345.6,1006.15 349,1001.15 352.4,1003.95 362.6,1006.55 374,1003.95 378,1006.35 383.4,1001.15 388,1006.35 391.4,1003.95 405.4,1006.55 418.6,1003.95 429.2,1006.55 437.6,1003.95 442,1001.15 447,1003.95 454.2,998.54 464.6,1006.35 470,1003.95 474.4,1001.15 486.6,1006.35 497,1001.55 501.4,998.54 511.6,1006.35 522,1003.95 526.4,1001.15 533.4,1006.35 539,1003.95 545,1006.35 552,1003.95 558.4,1006.35 565.6,1003.95 570.6,1006.35 574,1003.95 578,1006.35 582.4,1001.15 586,1006.15 589,1003.95 597.4,1006.35 604,1003.95 606.4,998.54 608.6,995.94 611,998.54 613.4,1005.95 616.4,1003.95 629,1006.35 643,1001.15 646,1003.55 649.4,998.54 653,1003.95 656.6,1006.15 662.6,1003.95 671,1006.35 680,1003.95 685.6,1001.15 688,1003.55 692,999.35 694.4,998.54 696.4,1003.95 708.6,1006.55 722.6,1003.95 733,1006.35 744,1003.95 749.4,1006.15 754.4,1003.95 761,1006.15 766,1003.95 782,1006.55 800,1003.95 806.6,1006.15 811,1003.95 845,1006.55 880,1003.95 894.4,1006.35 907.6,1003.95 916,1006.35 925.6,1003.95 945.6,1006.55 965,1003.88 970.47,1001.22 976.67,1006.22 979.33,991.55 980.53,978.21 981.47,962.87 982.8,963.01 984.53,968.21 986,980.21 988.33,996.88 991.13,990.88 994.33,985.68 996.33,988.21 998.47,985.68 1000.8,987.21 1002.33,976.21 1004.53,968.21 1007,965.21 1007.67,966.21 1009,979.54 1011.33,993.55 1016.33,1003.55 1023.53,1001.22 1043.33,1006.35 1047.6,1003.95 1053.6,1006.15 1058,1001.55 1061.4,998.54 1063.6,1001.55 1065.6,1005.95 1068.6,1001.15 1073.6,1003.95 1082,1001.15 1089,1003.95 1100.6,1006.35 1114.6,1003.95 1118,1006.15 1123.6,1001.15 1127.6,1003.95 1137,1006.35 1146.4,1003.95 1150,1001.15 1157.6,1006.15 1163.4,1003.95 1169,1006.15 1173,1003.95 1178.4,1006.15 1183.4,1003.95 1186.6,1006.15 1190.4,1003.95 1198,1006.35 1204,1003.95 1207.6,1006.15 1210.4,1003.95 1213.6,1006.15 1218,1001.15 1220,1002.95 1223,995.94 1226.4,998.94 1228.6,1005.95 1234.6,998.54 1238.4,1001.55 1245,1006.35 1250,998.54 1256.6,1003.95 1259.4,1001.15 1265.6,1006.15 1267.6,1001.15 1270,998.54 1276.4,1006.15 1280.6,1001.15 1287,1006.15 1291.6,1001.15 1295,1003.55 1297.4,1006.15 1301.6,1001.15 1308.6,1003.95 1319,1006.35 1330,1002.31 1338.24,998.92 1340.67,988.38 1346.61,993.23 1350.24,983.18 1353.64,986.57 1355.45,993.23 1357.52,991.17 1359.45,995.65 1361.52,985.96 1365.76,980.87 1367.94,990.2 1371.82,970.82 1374.24,962.95 1376.06,972.03 1378.24,968.4 1380.3,975.06 1382.36,959.32 1386.36,950.48 1390.36,901.18 1393.88,882.41 1396.91,862.43 1399.33,860.25 1401.52,870.3 1403.09,895.13 1406,920.56 1408.18,949.63 1409.64,961.74 1411.45,952.05 1413.39,925.41 1415.7,909.06 1418.73,925.41 1420.91,946 1422.36,975.67 1423.09,975.67"/>
<path class="ln" d="M259 860.25 H270.9 V1006.55 H259"/>
<text transform="translate(252.3 863.15) scale(0.94 1)" font-size="13.5" text-anchor="end" stroke="#000" stroke-width="0.2">83</text>
<text transform="translate(252.3 1009.45) scale(0.94 1)" font-size="13.5" text-anchor="end" stroke="#000" stroke-width="0.2">0</text>
<text transform="translate(73.4 939.4) scale(0.924 1)" font-size="25.4" stroke="#000" stroke-width="0.3">GSM6893074</text>
</g>
<g>
<text transform="translate(839.2 1100.55) scale(0.953 1)" font-size="37.1" text-anchor="middle" stroke="#000" stroke-width="0.4">TRA2A</text>
<line class="ln" style="stroke-width:0.9" x1="317" y1="1142.0" x2="1398" y2="1142.0"/>
<path class="ar" d="M325 1135 L318.1 1142 L325 1149"/>
<path class="ar" d="M359.2 1135 L352.3 1142 L359.2 1149"/>
<path class="ar" d="M404.5 1135 L397.6 1142 L404.5 1149"/>
<path class="ar" d="M432.1 1135 L425.2 1142 L432.1 1149"/>
<path class="ar" d="M459.7 1135 L452.8 1142 L459.7 1149"/>
<path class="ar" d="M487.3 1135 L480.4 1142 L487.3 1149"/>
<path class="ar" d="M514.9 1135 L508 1142 L514.9 1149"/>
<path class="ar" d="M542.5 1135 L535.6 1142 L542.5 1149"/>
<path class="ar" d="M570.1 1135 L563.2 1142 L570.1 1149"/>
<path class="ar" d="M597.7 1135 L590.8 1142 L597.7 1149"/>
<path class="ar" d="M634.1 1135 L627.2 1142 L634.1 1149"/>
<path class="ar" d="M661.65 1135 L654.75 1142 L661.65 1149"/>
<path class="ar" d="M689.2 1135 L682.3 1142 L689.2 1149"/>
<path class="ar" d="M716.75 1135 L709.85 1142 L716.75 1149"/>
<path class="ar" d="M744.3 1135 L737.4 1142 L744.3 1149"/>
<path class="ar" d="M776.2 1135 L769.3 1142 L776.2 1149"/>
<path class="ar" d="M803.75 1135 L796.85 1142 L803.75 1149"/>
<path class="ar" d="M831.3 1135 L824.4 1142 L831.3 1149"/>
<path class="ar" d="M858.85 1135 L851.95 1142 L858.85 1149"/>
<path class="ar" d="M886.4 1135 L879.5 1142 L886.4 1149"/>
<path class="ar" d="M913.95 1135 L907.05 1142 L913.95 1149"/>
<path class="ar" d="M941.5 1135 L934.6 1142 L941.5 1149"/>
<path class="ar" d="M969.05 1135 L962.15 1142 L969.05 1149"/>
<path class="ar" d="M1014.9 1135 L1008 1142 L1014.9 1149"/>
<path class="ar" d="M1042.4 1135 L1035.5 1142 L1042.4 1149"/>
<path class="ar" d="M1069.9 1135 L1063 1142 L1069.9 1149"/>
<path class="ar" d="M1097.4 1135 L1090.5 1142 L1097.4 1149"/>
<path class="ar" d="M1124.9 1135 L1118 1142 L1124.9 1149"/>
<path class="ar" d="M1152.4 1135 L1145.5 1142 L1152.4 1149"/>
<path class="ar" d="M1179.9 1135 L1173 1142 L1179.9 1149"/>
<path class="ar" d="M1207.4 1135 L1200.5 1142 L1207.4 1149"/>
<path class="ar" d="M1234.9 1135 L1228 1142 L1234.9 1149"/>
<path class="ar" d="M1262.4 1135 L1255.5 1142 L1262.4 1149"/>
<path class="ar" d="M1289.9 1135 L1283 1142 L1289.9 1149"/>
<path class="ar" d="M1317.4 1135 L1310.5 1142 L1317.4 1149"/>
<path class="ar" d="M1344.9 1135 L1338 1142 L1344.9 1149"/>
<path class="ar" d="M1372.4 1135 L1365.5 1142 L1372.4 1149"/>
<rect x="270.7" y="1124.3" width="46.6" height="35.2" fill="#000"/>
<rect x="303" y="1107" width="1" height="69.8" fill="#000"/>
<rect x="311" y="1107" width="3.2" height="69.8" fill="#000"/>
<rect x="327.2" y="1107" width="6" height="69.8" fill="#000"/>
<rect x="327.2" y="1124.3" width="14.9" height="35.2" fill="#000"/>
<rect x="369.9" y="1124.3" width="16.3" height="35.2" fill="#000"/>
<rect x="380.9" y="1107" width="5.3" height="69.8" fill="#000"/>
<rect x="609.3" y="1107" width="8.6" height="69.8" fill="#000"/>
<rect x="753.9" y="1107" width="7.4" height="69.8" fill="#000"/>
<rect x="976.5" y="1107" width="6.5" height="69.8" fill="#000"/>
<rect x="1001.3" y="1107" width="6.7" height="69.8" fill="#000"/>
<rect x="976.5" y="1124.3" width="31.5" height="35.2" fill="#000"/>
<rect x="1372.1" y="1124.3" width="4.2" height="35.2" fill="#000"/>
<rect x="1382.1" y="1124.3" width="11.5" height="35.2" fill="#000"/>
<rect x="1397.3" y="1124.3" width="11.3" height="35.2" fill="#000"/>
<rect x="1397.3" y="1107" width="2.3" height="69.8" fill="#000"/>
</g>
<g>
<text transform="translate(88.8 1221.8) scale(1.0 1)" font-size="48.5" stroke="#000" stroke-width="0.25">chr7</text>
<line class="ln" x1="271" y1="1193.5" x2="1423.8" y2="1193.5"/>
<line class="ln" x1="271" y1="1215.5" x2="1423.8" y2="1215.5"/>
<line class="ln" x1="321.5" y1="1215.5" x2="321.5" y2="1226.5"/>
<line class="ln" x1="405.5" y1="1215.5" x2="405.5" y2="1226.5"/>
<line class="ln" x1="488.5" y1="1215.5" x2="488.5" y2="1242.3"/>
<line class="ln" x1="571.5" y1="1215.5" x2="571.5" y2="1226.5"/>
<line class="ln" x1="655.5" y1="1215.5" x2="655.5" y2="1226.5"/>
<line class="ln" x1="738.5" y1="1215.5" x2="738.5" y2="1226.5"/>
<line class="ln" x1="822.5" y1="1215.5" x2="822.5" y2="1226.5"/>
<line class="ln" x1="905.5" y1="1215.5" x2="905.5" y2="1242.3"/>
<line class="ln" x1="989.5" y1="1215.5" x2="989.5" y2="1226.5"/>
<line class="ln" x1="1072.5" y1="1215.5" x2="1072.5" y2="1226.5"/>
<line class="ln" x1="1156.5" y1="1215.5" x2="1156.5" y2="1226.5"/>
<line class="ln" x1="1239.5" y1="1215.5" x2="1239.5" y2="1226.5"/>
<line class="ln" x1="1322.5" y1="1215.5" x2="1322.5" y2="1242.3"/>
<line class="ln" x1="1406.5" y1="1215.5" x2="1406.5" y2="1226.5"/>
<text transform="translate(488.7 1258.65) scale(0.97 1)" font-size="24.5" text-anchor="middle" stroke="#000" stroke-width="0.3">23.51Mb</text>
<text transform="translate(905.9 1258.65) scale(0.97 1)" font-size="24.5" text-anchor="middle" stroke="#000" stroke-width="0.3">23.52Mb</text>
<text transform="translate(1323.1 1258.65) scale(0.97 1)" font-size="24.5" text-anchor="middle" stroke="#000" stroke-width="0.3">23.53Mb</text>
</g>
</svg>
</body></html>
